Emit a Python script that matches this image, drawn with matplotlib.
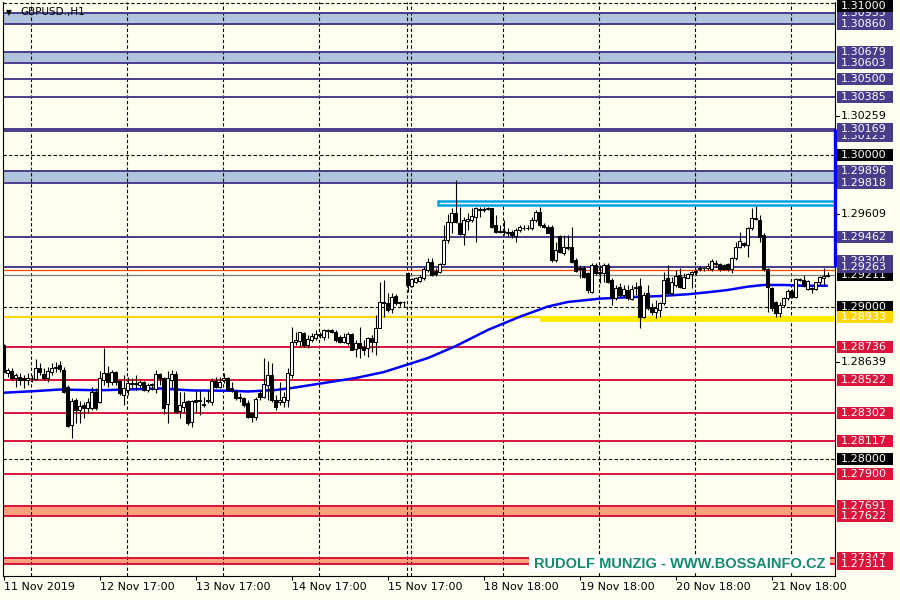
import matplotlib
matplotlib.use("Agg")
import matplotlib.pyplot as plt
from matplotlib.patches import Rectangle
from matplotlib.lines import Line2D
import numpy as np

# ---------------- data ----------------
opens = [
    1.28750, 1.28564, 1.28579, 1.28535, 1.28542, 1.28531, 1.28520, 1.28535, 1.28527, 1.28597,
    1.28557, 1.28535, 1.28570, 1.28597, 1.28619, 1.28586, 1.28476, 1.28224, 1.28388, 1.28323,
    1.28355, 1.28334, 1.28338, 1.28443, 1.28377, 1.28520, 1.28564, 1.28509, 1.28575, 1.28513,
    1.28421, 1.28454, 1.28491, 1.28498, 1.28487, 1.28505, 1.28454, 1.28487, 1.28461, 1.28557,
    1.28531, 1.28360, 1.28520, 1.28557, 1.28316, 1.28344, 1.28382, 1.28241, 1.28388, 1.28388,
    1.28355, 1.28384, 1.28377, 1.28513, 1.28476, 1.28520, 1.28535, 1.28465, 1.28448, 1.28399,
    1.28404, 1.28366, 1.28301, 1.28279, 1.28432, 1.28410, 1.28487, 1.28553, 1.28388, 1.28377,
    1.28377, 1.28388, 1.28553, 1.28772, 1.28779, 1.28827, 1.28751, 1.28783, 1.28794, 1.28816,
    1.28805, 1.28843, 1.28849, 1.28838, 1.28805, 1.28772, 1.28761, 1.28821, 1.28724, 1.28761,
    1.28740, 1.28729, 1.28799, 1.28772, 1.28865, 1.29036, 1.29025, 1.28987, 1.29075, 1.29025,
    1.29031, 1.29222, 1.29141, 1.29167, 1.29172, 1.29189, 1.29244, 1.29294, 1.29237, 1.29233,
    1.29281, 1.29441, 1.29562, 1.29617, 1.29551, 1.29479, 1.29569, 1.29573, 1.29595, 1.29645,
    1.29639, 1.29645, 1.29650, 1.29540, 1.29496, 1.29498, 1.29494, 1.29492, 1.29470, 1.29507,
    1.29522, 1.29518, 1.29518, 1.29573, 1.29628, 1.29540, 1.29529, 1.29529, 1.29309, 1.29469,
    1.29353, 1.29397, 1.29397, 1.29309, 1.29250, 1.29259, 1.29222, 1.29101, 1.29276, 1.29228,
    1.29222, 1.29276, 1.29178, 1.29057, 1.29134, 1.29079, 1.29112, 1.29053, 1.29123, 1.29140,
    1.28937, 1.29090, 1.29002, 1.28965, 1.28980, 1.29024, 1.29189, 1.29090, 1.29145, 1.29211,
    1.29127, 1.29193, 1.29215, 1.29228, 1.29250, 1.29254, 1.29254, 1.29250, 1.29287, 1.29281,
    1.29276, 1.29281, 1.29250, 1.29320, 1.29397, 1.29419, 1.29408, 1.29518, 1.29579, 1.29573,
    1.29474, 1.29250, 1.29123, 1.29031, 1.28958, 1.29013, 1.29057, 1.29105, 1.29068, 1.29180,
    1.29178, 1.29119, 1.29127, 1.29119, 1.29162, 1.29193, 1.29206,
]
highs = [
    1.28755, 1.28597, 1.28597, 1.28564, 1.28564, 1.28553, 1.28564, 1.28553, 1.28658, 1.28630,
    1.28597, 1.28608, 1.28630, 1.28641, 1.28645, 1.28608, 1.28487, 1.28399, 1.28399, 1.28382,
    1.28377, 1.28399, 1.28476, 1.28465, 1.28579, 1.28733, 1.28614, 1.28586, 1.28579, 1.28520,
    1.28553, 1.28542, 1.28531, 1.28553, 1.28520, 1.28513, 1.28498, 1.28498, 1.28586, 1.28564,
    1.28542, 1.28579, 1.28586, 1.28579, 1.28443, 1.28443, 1.28388, 1.28388, 1.28454, 1.28454,
    1.28410, 1.28454, 1.28531, 1.28542, 1.28542, 1.28564, 1.28542, 1.28509, 1.28454, 1.28432,
    1.28410, 1.28388, 1.28312, 1.28410, 1.28454, 1.28662, 1.28645, 1.28630, 1.28421, 1.28509,
    1.28443, 1.28597, 1.28869, 1.28838, 1.28838, 1.28838, 1.28816, 1.28827, 1.28849, 1.28838,
    1.28856, 1.28856, 1.28853, 1.28849, 1.28816, 1.28827, 1.28838, 1.28827, 1.28783, 1.28871,
    1.28783, 1.28805, 1.28816, 1.28948, 1.29167, 1.29178, 1.29090, 1.29090, 1.29084, 1.29040,
    1.29040, 1.29233, 1.29189, 1.29200, 1.29211, 1.29266, 1.29321, 1.29321, 1.29255, 1.29288,
    1.29540, 1.29610, 1.29650, 1.29836, 1.29661, 1.29595, 1.29617, 1.29650, 1.29661, 1.29661,
    1.29661, 1.29661, 1.29654, 1.29606, 1.29540, 1.29573, 1.29518, 1.29507, 1.29518, 1.29540,
    1.29540, 1.29540, 1.29595, 1.29639, 1.29661, 1.29551, 1.29540, 1.29540, 1.29430, 1.29474,
    1.29474, 1.29474, 1.29529, 1.29320, 1.29276, 1.29272, 1.29233, 1.29287, 1.29287, 1.29276,
    1.29287, 1.29287, 1.29189, 1.29145, 1.29156, 1.29145, 1.29145, 1.29145, 1.29167, 1.29189,
    1.29101, 1.29145, 1.29024, 1.29046, 1.29035, 1.29233, 1.29276, 1.29200, 1.29243, 1.29254,
    1.29222, 1.29222, 1.29237, 1.29250, 1.29272, 1.29265, 1.29287, 1.29316, 1.29309, 1.29287,
    1.29285, 1.29287, 1.29331, 1.29430, 1.29496, 1.29430, 1.29529, 1.29649, 1.29667, 1.29605,
    1.29485, 1.29255, 1.29134, 1.29040, 1.29035, 1.29068, 1.29116, 1.29119, 1.29193, 1.29193,
    1.29211, 1.29178, 1.29134, 1.29167, 1.29206, 1.29259, 1.29233,
]
lows = [
    1.28570, 1.28542, 1.28520, 1.28476, 1.28487, 1.28465, 1.28487, 1.28509, 1.28520, 1.28553,
    1.28520, 1.28509, 1.28553, 1.28575, 1.28575, 1.28432, 1.28213, 1.28141, 1.28235, 1.28235,
    1.28268, 1.28301, 1.28323, 1.28323, 1.28366, 1.28487, 1.28476, 1.28487, 1.28487, 1.28421,
    1.28355, 1.28421, 1.28465, 1.28454, 1.28465, 1.28448, 1.28443, 1.28454, 1.28432, 1.28487,
    1.28294, 1.28235, 1.28465, 1.28301, 1.28268, 1.28312, 1.28224, 1.28213, 1.28312, 1.28290,
    1.28344, 1.28366, 1.28355, 1.28465, 1.28465, 1.28498, 1.28454, 1.28443, 1.28388, 1.28377,
    1.28344, 1.28268, 1.28241, 1.28257, 1.28388, 1.28399, 1.28388, 1.28377, 1.28323, 1.28355,
    1.28344, 1.28344, 1.28533, 1.28751, 1.28740, 1.28740, 1.28729, 1.28772, 1.28783, 1.28794,
    1.28783, 1.28794, 1.28827, 1.28772, 1.28761, 1.28761, 1.28751, 1.28716, 1.28674, 1.28663,
    1.28685, 1.28674, 1.28707, 1.28685, 1.28860, 1.28937, 1.28970, 1.28959, 1.29014, 1.29009,
    1.29003, 1.29101, 1.29134, 1.29156, 1.29163, 1.29178, 1.29233, 1.29207, 1.29207, 1.29222,
    1.29277, 1.29419, 1.29485, 1.29551, 1.29474, 1.29408, 1.29507, 1.29562, 1.29430, 1.29595,
    1.29628, 1.29639, 1.29518, 1.29485, 1.29485, 1.29474, 1.29463, 1.29457, 1.29430, 1.29496,
    1.29507, 1.29507, 1.29507, 1.29562, 1.29529, 1.29518, 1.29485, 1.29298, 1.29298, 1.29353,
    1.29342, 1.29375, 1.29287, 1.29233, 1.29189, 1.29189, 1.29090, 1.29090, 1.29211, 1.29156,
    1.29167, 1.29156, 1.29013, 1.29046, 1.29068, 1.29068, 1.29046, 1.29046, 1.29079, 1.28864,
    1.28926, 1.28980, 1.28947, 1.28930, 1.28937, 1.29013, 1.29079, 1.29079, 1.29134, 1.29123,
    1.29123, 1.29189, 1.29123, 1.29211, 1.29237, 1.29237, 1.29243, 1.29237, 1.29265, 1.29237,
    1.29243, 1.29237, 1.29222, 1.29309, 1.29386, 1.29397, 1.29331, 1.29507, 1.29573, 1.29430,
    1.29237, 1.28969, 1.28974, 1.28937, 1.28937, 1.29002, 1.29046, 1.29057, 1.29062, 1.29171,
    1.29134, 1.29112, 1.29090, 1.29112, 1.29145, 1.29145, 1.29200,
]
closes = [
    1.28575, 1.28586, 1.28531, 1.28553, 1.28520, 1.28520, 1.28535, 1.28531, 1.28597, 1.28570,
    1.28535, 1.28579, 1.28601, 1.28608, 1.28590, 1.28443, 1.28219, 1.28382, 1.28323, 1.28351,
    1.28334, 1.28377, 1.28439, 1.28338, 1.28531, 1.28564, 1.28509, 1.28575, 1.28509, 1.28432,
    1.28465, 1.28498, 1.28498, 1.28494, 1.28509, 1.28454, 1.28487, 1.28491, 1.28557, 1.28531,
    1.28334, 1.28531, 1.28557, 1.28312, 1.28355, 1.28373, 1.28235, 1.28382, 1.28377, 1.28384,
    1.28360, 1.28388, 1.28513, 1.28476, 1.28509, 1.28531, 1.28454, 1.28454, 1.28399, 1.28410,
    1.28355, 1.28279, 1.28279, 1.28395, 1.28410, 1.28491, 1.28553, 1.28388, 1.28344, 1.28388,
    1.28410, 1.28564, 1.28772, 1.28783, 1.28834, 1.28751, 1.28790, 1.28812, 1.28825, 1.28821,
    1.28849, 1.28849, 1.28838, 1.28783, 1.28772, 1.28805, 1.28821, 1.28718, 1.28761, 1.28729,
    1.28718, 1.28794, 1.28772, 1.28860, 1.29036, 1.29025, 1.28981, 1.29069, 1.29025, 1.29031,
    1.29031, 1.29145, 1.29185, 1.29194, 1.29200, 1.29251, 1.29294, 1.29211, 1.29216, 1.29281,
    1.29441, 1.29562, 1.29617, 1.29562, 1.29479, 1.29573, 1.29580, 1.29601, 1.29650, 1.29639,
    1.29645, 1.29650, 1.29529, 1.29492, 1.29501, 1.29494, 1.29490, 1.29474, 1.29507, 1.29529,
    1.29518, 1.29522, 1.29573, 1.29628, 1.29540, 1.29529, 1.29490, 1.29309, 1.29375, 1.29364,
    1.29397, 1.29386, 1.29298, 1.29237, 1.29259, 1.29200, 1.29112, 1.29276, 1.29222, 1.29225,
    1.29276, 1.29167, 1.29057, 1.29123, 1.29079, 1.29116, 1.29057, 1.29119, 1.29134, 1.28937,
    1.29079, 1.28991, 1.28965, 1.28991, 1.29024, 1.29178, 1.29090, 1.29167, 1.29206, 1.29134,
    1.29200, 1.29215, 1.29228, 1.29237, 1.29259, 1.29259, 1.29272, 1.29303, 1.29281, 1.29250,
    1.29250, 1.29250, 1.29320, 1.29397, 1.29434, 1.29408, 1.29518, 1.29583, 1.29583, 1.29463,
    1.29250, 1.29134, 1.28991, 1.28958, 1.29013, 1.29057, 1.29105, 1.29068, 1.29184, 1.29184,
    1.29140, 1.29171, 1.29119, 1.29162, 1.29200, 1.29202, 1.29211,
]

# moving average (read at sample bars)
ma_bars = [0, 8, 14, 24, 39, 47, 57, 61, 68, 72, 80, 88, 95, 101, 106, 113, 121, 129,
           136, 141, 149, 156, 164, 171, 176, 181, 186, 190, 195, 200, 206]
ma_vals = [1.28436, 1.28447, 1.28457, 1.28452, 1.28464, 1.28451, 1.28449, 1.28444, 1.28454,
           1.28467, 1.28500, 1.28533, 1.28572, 1.28622, 1.28664, 1.28743, 1.28849, 1.28936,
           1.29003, 1.29033, 1.29055, 1.29064, 1.29072, 1.29084, 1.29097, 1.29112, 1.29134,
           1.29145, 1.29145, 1.29140, 1.29140]

# levels
slate_zones = [(1.30860, 1.30935), (1.30603, 1.30679), (1.29818, 1.29896)]
slate_lines = [1.30500, 1.30385, 1.30169, 1.30155, 1.29462, 1.29263]
red_lines = [1.28736, 1.28522, 1.28302, 1.28117, 1.27900]
red_zones = [(1.27622, 1.27691), (1.27311, 1.27347)]
grid_prices = [1.28, 1.29, 1.30, 1.31]
orange_level = 1.29243
bid_price = 1.29211
yellow_level = 1.28933
yellow_zone = (1.28903, 1.28941)
yellow_zone_start = 134
sky_zone = (1.29674, 1.29697)
sky_zone_start = 108.5
blue_bar = (1.29263, 1.30169)
day_grid_bars = [7, 31, 55, 79, 101, 102, 125, 149, 173, 197]
tick_bars = [0, 24, 48, 72, 96, 120, 144, 168, 192]
tick_labels = ["11 Nov 2019", "12 Nov 17:00", "13 Nov 17:00", "14 Nov 17:00",
               "15 Nov 17:00", "18 Nov 18:00", "19 Nov 18:00", "20 Nov 18:00",
               "21 Nov 18:00"]

# right scale labels: (text, price, bg, fg) drawn in order (later ones on top)
SLATE = '#483D8B'
CRIM = '#DC143C'
price_labels = [
    ("1.30935", 1.30935, SLATE, 'white'),
    ("1.30860", 1.30860, SLATE, 'white'),
    ("1.31000", 1.31000, 'black', 'white'),
    ("1.30679", 1.30679, SLATE, 'white'),
    ("1.30603", 1.30603, SLATE, 'white'),
    ("1.30500", 1.30500, SLATE, 'white'),
    ("1.30385", 1.30385, SLATE, 'white'),
    ("1.30125", 1.30125, SLATE, 'white'),
    ("1.30169", 1.30169, SLATE, 'white'),
    ("1.30000", 1.30000, 'black', 'white'),
    ("1.29896", 1.29896, SLATE, 'white'),
    ("1.29818", 1.29818, SLATE, 'white'),
    ("1.29462", 1.29462, SLATE, 'white'),
    ("1.29304", 1.29304, SLATE, 'white'),
    ("1.29211", 1.29211, 'black', 'white'),
    ("1.29263", 1.29263, SLATE, 'white'),
    ("1.29000", 1.29000, 'black', 'white'),
    ("1.28933", 1.28933, '#FFD700', 'white'),
    ("1.28736", 1.28736, CRIM, 'white'),
    ("1.28522", 1.28522, CRIM, 'white'),
    ("1.28302", 1.28302, CRIM, 'white'),
    ("1.28117", 1.28117, CRIM, 'white'),
    ("1.28000", 1.28000, 'black', 'white'),
    ("1.27900", 1.27900, CRIM, 'white'),
    ("1.27691", 1.27691, CRIM, 'white'),
    ("1.27622", 1.27622, CRIM, 'white'),
    ("1.27347", 1.27347, CRIM, 'white'),
    ("1.27311", 1.27311, CRIM, 'white'),
]
plain_labels = [1.30259, 1.29609, 1.28639]

# ---------------- figure ----------------
BG = '#FFFFF0'
W, H = 900, 600
L_PX, R_PX, T_PX, B_PX = 3, 835, 2, 576
fig = plt.figure(figsize=(9, 6), dpi=100, facecolor=BG)
ax = fig.add_axes([L_PX / W, 1 - B_PX / H, (R_PX - L_PX) / W, (B_PX - T_PX) / H])
ax.set_facecolor(BG)
XMIN, XMAX = -0.2, 207.8
ax.set_xlim(XMIN, XMAX)
ax.set_ylim(1.27230, 1.31007)

for s in ['left', 'right', 'bottom']:
    ax.spines[s].set_color('black')
    ax.spines[s].set_linewidth(0.8)
ax.spines['top'].set_visible(False)
ax.set_yticks([])

# zones
for lo, hi in slate_zones:
    ax.axhspan(lo, hi, color='#B0C4DE', lw=0, zorder=1)
    ax.axhline(lo, color=SLATE, lw=1.4, zorder=2.5)
    ax.axhline(hi, color=SLATE, lw=1.4, zorder=2.5)
for lo, hi in red_zones:
    ax.axhspan(lo, hi, color='#FFA07A', lw=0, zorder=1)
    ax.axhline(lo, color=CRIM, lw=1.4, zorder=2.5)
    ax.axhline(hi, color=CRIM, lw=1.4, zorder=2.5)

# grid
dash = (0, (3, 2))
for p in grid_prices:
    ax.axhline(p, color='black', lw=0.8, ls=dash, zorder=2)
for b in day_grid_bars:
    ax.axvline(b - 0.2, color='black', lw=0.8, ls=dash, zorder=2)

for p in slate_lines:
    ax.axhline(p, color=SLATE, lw=1.4, zorder=2.5)
for p in red_lines:
    ax.axhline(p, color=CRIM, lw=1.4, zorder=2.5)
ax.axhline(orange_level, color='#FF4500', lw=0.9, zorder=2.5)
ax.axhline(bid_price, color='#808080', lw=0.9, zorder=2.5)
ax.axhline(yellow_level, color='#FFD700', lw=1.5, zorder=2.5)

ax.add_patch(Rectangle((yellow_zone_start, yellow_zone[0]), XMAX - yellow_zone_start,
                       yellow_zone[1] - yellow_zone[0], facecolor='#FFEA00', lw=0, zorder=2.6))
ax.add_patch(Rectangle((sky_zone_start, sky_zone[0]), XMAX - sky_zone_start + 1,
                       sky_zone[1] - sky_zone[0], facecolor='white', edgecolor='#00A0E6',
                       lw=1.8, zorder=2.6))

# moving average
ax.plot(ma_bars, ma_vals, color='#0000FF', lw=1.8, zorder=3, solid_capstyle='butt')

# candles
idx = np.arange(len(opens))
o = np.array(opens); c = np.array(closes); h = np.array(highs); l = np.array(lows)
ax.vlines(idx, l, h, color='black', lw=0.8, zorder=4)
up = c >= o
bottoms = np.minimum(o, c)
heights = np.maximum(np.abs(c - o), 0.00002)
ax.bar(idx[up], heights[up], bottom=bottoms[up], width=0.75, color='white',
       edgecolor='black', lw=0.75, zorder=5)
ax.bar(idx[~up], heights[~up], bottom=bottoms[~up], width=0.75, color='black',
       edgecolor='black', lw=0.75, zorder=5)

# blue vertical bar at right edge
ax.plot([XMAX - 0.05, XMAX - 0.05], list(blue_bar), color='#0000FF', lw=2.4,
        solid_capstyle='butt', clip_on=False, zorder=10)

# x axis ticks
ax.set_xticks(tick_bars)
ax.set_xticklabels(tick_labels, ha='left', fontsize=8, fontfamily='DejaVu Sans')
ax.tick_params(axis='x', length=3, width=0.8, pad=1.5, color='black')

# right price labels
def fy(p):
    return ax.transData.transform((0, p))[1] / H

for p in plain_labels:
    y = fy(p)
    fig.add_artist(Line2D([R_PX / W, (R_PX + 4) / W], [y, y], color='black', lw=0.8,
                          transform=fig.transFigure))
    fig.text(841 / W, y, f"{p:.5f}", color='black', fontsize=8, va='center', ha='left',
             fontfamily='DejaVu Sans', zorder=25)

box_h = 12 / H
for k, (text, p, bg, fg) in enumerate(price_labels):
    y = min(fy(p), 1 - 6 / H)
    rect = Rectangle((837 / W, y - box_h / 2), 56 / W, box_h,
                     transform=fig.transFigure, facecolor=bg, lw=0, figure=fig,
                     zorder=30 + 2 * k)
    fig.patches.append(rect)
    fig.text(841 / W, y, text, color=fg, fontsize=8, va='center', ha='left',
             fontfamily='DejaVu Sans', zorder=31 + 2 * k)

# title
fig.text(6 / W, 1 - 12.5 / H, "\u25BC", fontsize=5.5, va='center', ha='left', color='black')
fig.text(20 / W, 1 - 12.5 / H, "GBPUSD.,H1", fontsize=7.5, va='center', ha='left',
         color='black', fontfamily='DejaVu Sans')

# watermark
fig.patches.append(Rectangle((529 / W, 1 - 572 / H), 301 / W, 17 / H,
                             transform=fig.transFigure, facecolor='white', lw=0,
                             figure=fig, zorder=20))
fig.text(680 / W, 1 - 563.5 / H, "RUDOLF MUNZIG - WWW.BOSSAINFO.CZ", fontsize=10.5,
         fontweight='bold', color='#168A6E', ha='center', va='center',
         fontfamily='Liberation Sans', zorder=21)

fig.savefig('out.png', dpi=100, facecolor=BG)
